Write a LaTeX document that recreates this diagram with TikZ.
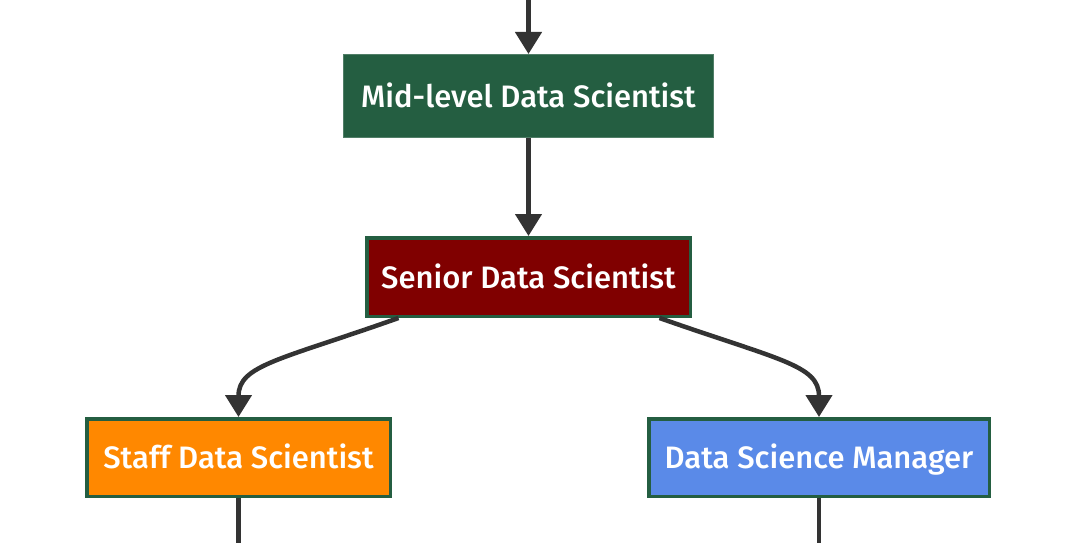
\documentclass[tikz,border=0pt]{standalone}
\usepackage{fontspec}
\setmainfont{Fira Sans}[UprightFont=* Medium]
\usetikzlibrary{arrows.meta,positioning,calc}

\definecolor{boxgreen}{HTML}{245E41}
\definecolor{boxred}{HTML}{800000}
\definecolor{boxorange}{HTML}{FF8800}
\definecolor{boxblue}{HTML}{5A8AE8}
\definecolor{linegray}{HTML}{333333}

\tikzset{
  rolebox/.style={draw=boxgreen, line width=3.5pt, text=white, inner sep=0pt,
    text height=22pt, text depth=0pt,
    font=\fontsize{31}{36}\selectfont},
  flow/.style={draw=linegray, line width=4.5pt, -{Triangle[width=26pt,length=22pt]}},
  tail/.style={draw=linegray, line width=4.5pt}
}

\begin{document}
\begin{tikzpicture}[x=1pt, y=-1pt]

\useasboundingbox (0,0) rectangle (1088,543);

% Roles
\node[rolebox, fill=boxgreen, draw=boxgreen!80!white, line width=1pt,
  minimum width=370pt, minimum height=83pt] (mid) at (528.5, 96) {Mid-level Data Scientist};
\node[rolebox, fill=boxred, minimum width=323.5pt, minimum height=78.5pt] (senior) at (528.5, 277) {Senior Data Scientist};
\node[rolebox, fill=boxorange, minimum width=303.5pt, minimum height=77.5pt] (staff) at (238.5, 457.5) {Staff Data Scientist};
\node[rolebox, fill=boxblue, minimum width=340.5pt, minimum height=77.5pt] (manager) at (819, 457.5) {Data Science Manager};

% Free ends
\coordinate (topin) at (528.5, 0);
\coordinate (staffout) at (238.5, 543);
\coordinate (managerout) at (819, 543);

% Connectors
\draw[flow] (topin) -- (mid);
\draw[flow] (mid) -- (senior);
\draw[flow] ([xshift=-130pt]senior.south) .. controls (280, 360) and (238.5, 365) .. (staff.north);
\draw[flow] ([xshift=131pt]senior.south) .. controls (779, 360) and (819, 365) .. (manager.north);
\draw[tail] (staff) -- (staffout);
\draw[tail] (manager) -- (managerout);

\end{tikzpicture}
\end{document}
